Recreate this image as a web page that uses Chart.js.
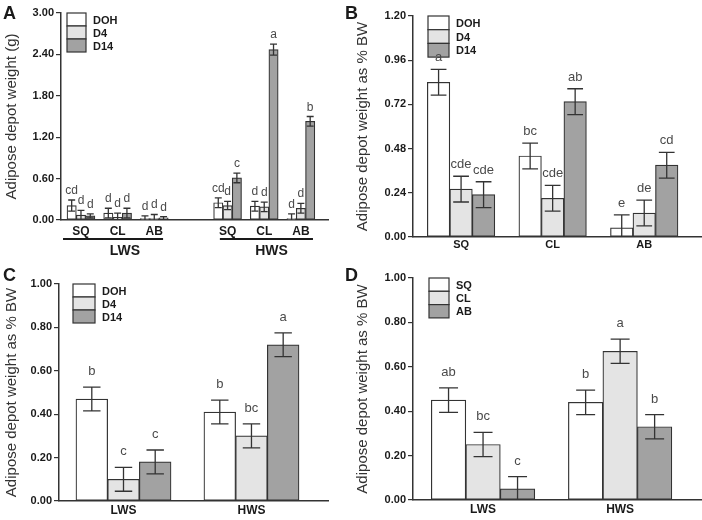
<!DOCTYPE html>
<html>
<head>
<meta charset="utf-8">
<script src="https://cdn.jsdelivr.net/npm/chart.js@4.4.1/dist/chart.umd.min.js"></script>
<style>
  body { margin: 0; background: #fff; }
  #fig { position: relative; width: 702px; height: 520px; overflow: hidden; }
  #fig canvas { position: absolute; }
  .tag { position: absolute; font: bold 18px 'Liberation Sans', Arial, sans-serif; line-height: 1; color: #1a1a1a; }
</style>
</head>
<body>
<div id="fig">
  <canvas id="chartA" width="351" height="260" style="left:0;top:0"></canvas>
  <canvas id="chartB" width="351" height="260" style="left:351px;top:0"></canvas>
  <canvas id="chartC" width="351" height="260" style="left:0;top:260px"></canvas>
  <canvas id="chartD" width="351" height="260" style="left:351px;top:260px"></canvas>
  <div class="tag" style="left:3px;top:4px">A</div>
  <div class="tag" style="left:345px;top:4px">B</div>
  <div class="tag" style="left:3px;top:266px">C</div>
  <div class="tag" style="left:345px;top:266px">D</div>
</div>
<script>
const stages = ['DOH', 'D4', 'D14'];
const depots = ['SQ', 'CL', 'AB'];
const sites = ['LWS', 'HWS'];

// A - depot weight (g): LWS SQ/CL/AB, gap, HWS SQ/CL/AB
const aLabels = ['SQ', 'CL', 'AB', '', 'SQ', 'CL', 'AB'];
const aDOH = [0.21, 0.10, 0.02, null, 0.25, 0.20, 0.02];
const aD4 = [0.07, 0.04, 0.02, null, 0.21, 0.19, 0.17];
const aD14 = [0.06, 0.10, 0.03, null, 0.61, 2.47, 1.43];
const aDOHErr = [0.08, 0.07, 0.04, null, 0.07, 0.07, 0.07];
const aD4Err = [0.07, 0.06, 0.06, null, 0.06, 0.07, 0.07];
const aD14Err = [0.03, 0.07, 0.02, null, 0.07, 0.08, 0.07];
const aDOHSig = ['cd', 'd', 'd', '', 'cd', 'd', 'd'];
const aD4Sig = ['d', 'd', 'd', '', 'd', 'd', 'd'];
const aD14Sig = ['d', 'd', 'd', '', 'c', 'a', 'b'];

// B - % BW by depot
const bDOH = [0.84, 0.44, 0.05];
const bD4 = [0.26, 0.21, 0.13];
const bD14 = [0.23, 0.735, 0.39];
const bDOHErr = [0.07, 0.07, 0.07];
const bD4Err = [0.07, 0.07, 0.07];
const bD14Err = [0.07, 0.07, 0.07];
const bDOHSig = ['a', 'bc', 'e'];
const bD4Sig = ['cde', 'cde', 'de'];
const bD14Sig = ['cde', 'ab', 'cd'];

// C - % BW by site, per stage
const cDOH = [0.47, 0.41];
const cD4 = [0.10, 0.30];
const cD14 = [0.18, 0.72];
const cErr = [0.055, 0.055];
const cDOHSig = ['b', 'b'];
const cD4Sig = ['c', 'bc'];
const cD14Sig = ['c', 'a'];

// D - % BW by site, per depot
const dSQ = [0.45, 0.44];
const dCL = [0.25, 0.67];
const dAB = [0.05, 0.33];
const dErr = [0.055, 0.055];
const dSQSig = ['ab', 'b'];
const dCLSig = ['bc', 'a'];
const dABSig = ['c', 'b'];

const FONT = "'Liberation Sans', Arial, sans-serif";
const fills = ['#ffffff', '#e4e4e4', '#a2a2a2'];
const ink = '#333333';

// error bars after the bars, significance letters on top of everything
function errorBars(cap, gap, fontSize) {
    const eachBar = (chart, fn) => {
        chart.data.datasets.forEach((ds, di) => {
            const meta = chart.getDatasetMeta(di);
            ds.data.forEach((pt, i) => {
                if (pt.y === null) return;
                const top = chart.scales.y.getPixelForValue(pt.y + ds.errors[i]);
                fn(ds, i, meta.data[i], pt, top);
            });
        });
    };
    return {
        id: 'errorBars',
        afterDatasetsDraw(chart) {
            const ctx = chart.ctx;
            const bottom = chart.chartArea.bottom;
            ctx.save();
            ctx.strokeStyle = ink;
            ctx.lineWidth = 1.3;
            eachBar(chart, (ds, i, bar, pt, top) => {
                const low = Math.min(chart.scales.y.getPixelForValue(pt.y - ds.errors[i]), bottom);
                const half = bar.width * cap / 2;
                ctx.beginPath();
                ctx.moveTo(bar.x, top);
                ctx.lineTo(bar.x, low);
                ctx.moveTo(bar.x - half, top);
                ctx.lineTo(bar.x + half, top);
                if (low < bottom - 1) {
                    ctx.moveTo(bar.x - half, low);
                    ctx.lineTo(bar.x + half, low);
                }
                ctx.stroke();
            });
            ctx.restore();
        },
        afterDraw(chart) {
            const ctx = chart.ctx;
            ctx.save();
            ctx.fillStyle = '#4a4a4a';
            ctx.font = fontSize + 'px ' + FONT;
            ctx.textAlign = 'center';
            ctx.textBaseline = 'alphabetic';
            eachBar(chart, (ds, i, bar, pt, top) => {
                ctx.fillText(ds.letters[i], bar.x, top - gap);
            });
            ctx.restore();
        }
    };
}

function boxLegend(dx, w, h) {
    return {
        id: 'boxLegend',
        afterDraw(chart) {
            const { ctx, chartArea } = chart;
            const x = chartArea.left + dx;
            let y = chartArea.top;
            ctx.save();
            ctx.font = 'bold 11px ' + FONT;
            ctx.textBaseline = 'middle';
            ctx.textAlign = 'left';
            chart.data.datasets.forEach(ds => {
                ctx.fillStyle = ds.backgroundColor;
                ctx.fillRect(x, y, w, h);
                ctx.strokeStyle = ink;
                ctx.lineWidth = 1.2;
                ctx.strokeRect(x, y, w, h);
                ctx.fillStyle = '#1a1a1a';
                ctx.fillText(ds.label, x + w + 7, y + h / 2 + 1);
                y += h;
            });
            ctx.restore();
        }
    };
}

// underline + site name under the depot labels of panel A
function siteBrackets(groups) {
    return {
        id: 'siteBrackets',
        afterDraw(chart) {
            const { ctx, chartArea } = chart;
            const xs = chart.scales.x;
            ctx.save();
            groups.forEach(g => {
                const y = chartArea.bottom + 19;
                ctx.strokeStyle = '#1a1a1a';
                ctx.lineWidth = 2.2;
                ctx.beginPath();
                ctx.moveTo(xs.getPixelForValue(g.from), y);
                ctx.lineTo(xs.getPixelForValue(g.to), y);
                ctx.stroke();
                ctx.fillStyle = '#1a1a1a';
                ctx.font = 'bold 14px ' + FONT;
                ctx.textAlign = 'center';
                ctx.textBaseline = 'middle';
                ctx.fillText(g.text, xs.getPixelForValue(g.at), chartArea.bottom + 31);
            });
            ctx.restore();
        }
    };
}

function panel(id, spec) {
    const datasets = spec.series.map((s, k) => ({
        label: s.label,
        data: s.values.map((v, i) => ({ x: i, y: v })),
        errors: s.errors,
        letters: s.letters,
        backgroundColor: fills[k],
        borderColor: ink,
        borderWidth: 1.2,
        borderSkipped: false,
        barThickness: spec.barW
    }));

    new Chart(document.getElementById(id), {
        type: 'bar',
        data: { datasets },
        options: {
            responsive: false,
            animation: false,
            layout: { padding: { top: spec.top, right: spec.right, left: 0, bottom: 0 } },
            plugins: {
                legend: { display: false },
                tooltip: { enabled: false }
            },
            scales: {
                x: {
                    type: 'linear',
                    min: spec.xMin,
                    max: spec.xMax,
                    offset: false,
                    grid: { display: false, drawTicks: false },
                    border: { color: ink, width: 1.5 },
                    ticks: {
                        stepSize: 1,
                        includeBounds: false,
                        autoSkip: false,
                        maxRotation: 0,
                        padding: spec.xPad,
                        color: '#1a1a1a',
                        font: { family: FONT, weight: 'bold', size: spec.xFont },
                        callback: v => spec.labels[v] ?? ''
                    },
                    afterFit: s => { s.height = spec.xH; }
                },
                y: {
                    min: 0,
                    max: spec.yMax,
                    grid: { drawOnChartArea: false, tickLength: 5, color: ink, lineWidth: 1.2 },
                    border: { color: ink, width: 1.5 },
                    ticks: {
                        stepSize: spec.yStep,
                        padding: 2,
                        color: '#1a1a1a',
                        font: { family: FONT, weight: 'bold', size: 11 },
                        callback: v => v.toFixed(2)
                    },
                    title: {
                        display: true,
                        text: spec.yTitle,
                        color: '#333',
                        font: { family: FONT, size: 15 },
                        padding: { top: 3, bottom: 0 }
                    },
                    afterFit: s => { s.width = spec.left; }
                }
            }
        },
        plugins: [boxLegend(spec.legendDx, spec.legendW, spec.legendH), errorBars(spec.cap, spec.gap, spec.sigFont)]
            .concat(spec.extra || [])
    });
}

panel('chartA', {
    labels: aLabels,
    series: [
        { label: stages[0], values: aDOH, errors: aDOHErr, letters: aDOHSig },
        { label: stages[1], values: aD4, errors: aD4Err, letters: aD4Sig },
        { label: stages[2], values: aD14, errors: aD14Err, letters: aD14Sig }
    ],
    yMax: 3, yStep: 0.6, yTitle: 'Adipose depot weight (g)',
    xMin: -0.545, xMax: 6.74, barW: 9.3,
    top: 13, right: 23, left: 61, xH: 40, xPad: 4, xFont: 12,
    cap: 0.75, gap: 6, sigFont: 12,
    legendDx: 6, legendW: 19, legendH: 13,
    extra: [siteBrackets([
        { text: sites[0], from: -0.49, to: 2.24, at: 1.2 },
        { text: sites[1], from: 3.79, to: 6.33, at: 5.2 }
    ])]
});

panel('chartB', {
    labels: depots,
    series: [
        { label: stages[0], values: bDOH, errors: bDOHErr, letters: bDOHSig },
        { label: stages[1], values: bD4, errors: bD4Err, letters: bD4Sig },
        { label: stages[2], values: bD14, errors: bD14Err, letters: bD14Sig }
    ],
    yMax: 1.2, yStep: 0.24, yTitle: 'Adipose depot weight as % BW',
    xMin: -0.525, xMax: 2.62, barW: 22.5,
    top: 16, right: 1, left: 62, xH: 23, xPad: 1, xFont: 11,
    cap: 0.7, gap: 8, sigFont: 13,
    legendDx: 15, legendW: 21, legendH: 13.7
});

panel('chartC', {
    labels: sites,
    series: [
        { label: stages[0], values: cDOH, errors: cErr, letters: cDOHSig },
        { label: stages[1], values: cD4, errors: cErr, letters: cD4Sig },
        { label: stages[2], values: cD14, errors: cErr, letters: cD14Sig }
    ],
    yMax: 1, yStep: 0.2, yTitle: 'Adipose depot weight as % BW',
    xMin: -0.504, xMax: 1.598, barW: 31.7,
    top: 24, right: 23, left: 59, xH: 19, xPad: 2, xFont: 12,
    cap: 0.55, gap: 12, sigFont: 13,
    legendDx: 14, legendW: 22, legendH: 13
});

panel('chartD', {
    labels: sites,
    series: [
        { label: depots[0], values: dSQ, errors: dErr, letters: dSQSig },
        { label: depots[1], values: dCL, errors: dErr, letters: dCLSig },
        { label: depots[2], values: dAB, errors: dErr, letters: dABSig }
    ],
    yMax: 1, yStep: 0.2, yTitle: 'Adipose depot weight as % BW',
    xMin: -0.511, xMax: 1.59, barW: 34.5,
    top: 18, right: 1, left: 62, xH: 20, xPad: 2, xFont: 12,
    cap: 0.55, gap: 12, sigFont: 13,
    legendDx: 16, legendW: 20, legendH: 13.3
});
</script>
</body>
</html>
